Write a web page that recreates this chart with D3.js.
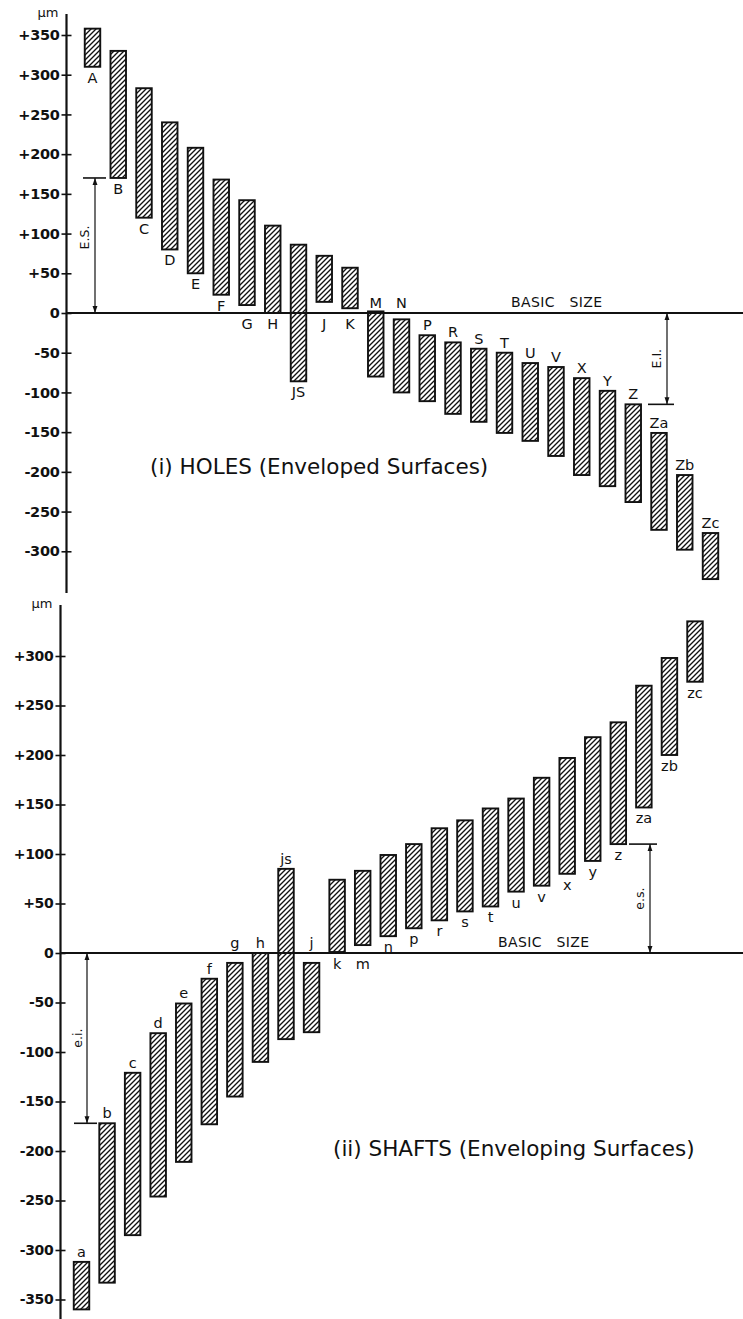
<!DOCTYPE html>
<html>
<head>
<meta charset="utf-8">
<script src="https://cdn.jsdelivr.net/npm/d3@7"></script>
<style>
  html, body { margin: 0; padding: 0; background: #fff; }
  svg { display: block; }
  text { font-family: "DejaVu Sans", "Liberation Sans", sans-serif; fill: #111; }
</style>
</head>
<body>
<svg id="chart" width="743" height="1319"></svg>
<script>
// Fundamental deviation zones, in micrometres (lower and upper limit of each zone)

// (i) Holes
const holeCodes = ["A","B","C","D","E","F","G","H","JS","J","K","M","N","P","R","S","T","U","V","X","Y","Z","Za","Zb","Zc"];
const holeLower = [310, 170, 120, 80, 50, 23, 10, 0, -86, 14, 6, -80, -100, -111, -127, -137, -151, -161, -180, -204, -218, -238, -273, -298, -335];
const holeUpper = [358, 330, 283, 240, 208, 168, 142, 110, 86, 72, 57, 2, -8, -28, -37, -45, -50, -63, -68, -82, -98, -115, -151, -204, -277];
const holeTicks = [350, 300, 250, 200, 150, 100, 50, 0, -50, -100, -150, -200, -250, -300];

// (ii) Shafts
const shaftCodes = ["a","b","c","d","e","f","g","h","js","j","k","m","n","p","r","s","t","u","v","x","y","z","za","zb","zc"];
const shaftLower = [-360, -333, -285, -246, -211, -173, -145, -110, -87, -80, 1, 8, 17, 25, 33, 42, 47, 62, 68, 80, 93, 110, 147, 200, 274];
const shaftUpper = [-312, -172, -121, -81, -51, -26, -10, 0, 85, -10, 74, 83, 99, 110, 126, 134, 146, 156, 177, 197, 218, 233, 270, 298, 335];
const shaftTicks = [300, 250, 200, 150, 100, 50, 0, -50, -100, -150, -200, -250, -300, -350];

const svg = d3.select("#chart");
const W = 743;

// diagonal hatching used to fill every zone
const defs = svg.append("defs");
const hs = 5;
defs.append("pattern")
  .attr("id", "hatch")
  .attr("patternUnits", "userSpaceOnUse")
  .attr("width", hs).attr("height", hs)
  .append("path")
  .attr("d", `M-1,1 l2,-2 M0,${hs} l${hs},-${hs} M${hs - 1},${hs + 1} l2,-2`)
  .attr("stroke", "#111").attr("stroke-width", 1.35);

defs.append("marker")
  .attr("id", "arrow")
  .attr("viewBox", "0 0 10 10")
  .attr("refX", 10).attr("refY", 5)
  .attr("markerWidth", 7).attr("markerHeight", 7)
  .attr("markerUnits", "userSpaceOnUse")
  .attr("orient", "auto-start-reverse")
  .append("path").attr("d", "M0,1.5 L10,5 L0,8.5 Z").attr("fill", "#111");

const fmt = v => v > 0 ? "+" + v : (v < 0 ? "-" + Math.abs(v) : "0");

function dimension(g, y, d) {
  g.append("line")
    .attr("x1", d.x).attr("x2", d.x)
    .attr("y1", y(0)).attr("y2", y(d.value))
    .attr("stroke", "#111").attr("stroke-width", 1.2)
    .attr("marker-start", "url(#arrow)")
    .attr("marker-end", "url(#arrow)");
  g.append("line")
    .attr("x1", d.x0).attr("x2", d.x1)
    .attr("y1", y(d.value)).attr("y2", y(d.value))
    .attr("stroke", "#111").attr("stroke-width", 1.6);
  g.append("text")
    .attr("transform", `translate(${d.lx},${(y(0) + y(d.value)) / 2 + d.dy}) rotate(-90)`)
    .attr("text-anchor", "middle")
    .attr("font-size", 12.5)
    .text(d.label);
}

function drawPanel(cfg) {
  const g = svg.append("g");
  const { x, y, axisX } = cfg;

  // vertical scale with ticks crossing the axis line
  const axis = d3.axisLeft(y)
    .tickValues(cfg.ticks)
    .tickFormat(fmt)
    .tickSize(5)
    .tickPadding(2);
  const ag = g.append("g")
    .attr("transform", `translate(${axisX},0)`)
    .call(axis);
  ag.select(".domain").remove();
  ag.selectAll(".tick line").attr("x1", 5).attr("stroke", "#111").attr("stroke-width", 1.6);
  ag.selectAll(".tick text")
    .attr("font-size", cfg.tickFont)
    .attr("font-family", "DejaVu Sans")
    .attr("fill", "#111")
    .attr("font-weight", "bold")
    .attr("letter-spacing", "-0.3");

  g.append("line")
    .attr("x1", axisX).attr("x2", axisX)
    .attr("y1", cfg.axisTop).attr("y2", cfg.axisBottom)
    .attr("stroke", "#111").attr("stroke-width", 2.2);

  g.append("text")
    .attr("x", axisX - 8).attr("y", cfg.axisTop + 3)
    .attr("text-anchor", "end")
    .attr("font-size", 13)
    .text("µm");

  // basic size (zero line)
  g.append("line")
    .attr("x1", axisX).attr("x2", W)
    .attr("y1", y(0)).attr("y2", y(0))
    .attr("stroke", "#111").attr("stroke-width", 2.2);

  g.append("text")
    .attr("x", cfg.basicX).attr("y", y(0) - 6)
    .attr("font-size", 14)
    .attr("letter-spacing", "0.4")
    .attr("xml:space", "preserve")
    .style("white-space", "pre")
    .text("BASIC   SIZE");

  const rows = cfg.codes.map((c, i) => ({ code: c, lo: cfg.lower[i], hi: cfg.upper[i] }));
  const bw = 15.5;

  g.selectAll("rect.zone")
    .data(rows)
    .join("rect")
    .attr("class", "zone")
    .attr("x", d => x(d.code) - bw / 2)
    .attr("width", bw)
    .attr("y", d => y(d.hi))
    .attr("height", d => y(d.lo) - y(d.hi))
    .attr("fill", "url(#hatch)")
    .attr("stroke", "#111")
    .attr("stroke-width", 1.9);

  // letter codes sit on the side of each zone that faces the zero line
  const near = v => Math.abs(v) < 15 ? 0 : v;
  g.selectAll("text.code")
    .data(rows)
    .join("text")
    .attr("class", "code")
    .attr("x", d => x(d.code))
    .attr("y", d => cfg.labelAbove(d) ? y(near(d.hi)) - 5 : y(near(d.lo)) + 16)
    .attr("text-anchor", "middle")
    .attr("font-size", 14.5)
    .text(d => d.code);

  cfg.dims.forEach(d => dimension(g, y, d));

  g.append("text")
    .attr("x", cfg.title.x).attr("y", cfg.title.y)
    .attr("font-size", 21.5)
    .attr("fill", "#222")
    .attr("xml:space", "preserve")
    .style("white-space", "pre")
    .text(cfg.title.text);
}

// (i) Holes
const holeIdx = c => holeCodes.indexOf(c);
drawPanel({
  codes: holeCodes, lower: holeLower, upper: holeUpper, ticks: holeTicks,
  x: d3.scalePoint().domain(holeCodes).range([92.5, 710.5]),
  y: d3.scaleLinear().domain([-350, 350]).range([591, 35]),
  axisX: 66.5, axisTop: 14, axisBottom: 593, tickFont: 14.5,
  basicX: 511,
  labelAbove: d => d.hi <= 5,
  dims: [
    { x: 95, x0: 83, x1: 106, value: holeLower[holeIdx("B")], label: "E.S.", lx: 89, dy: -8 },
    { x: 667, x0: 648, x1: 674, value: holeUpper[holeIdx("Z")], label: "E.I.", lx: 661, dy: 0 }
  ],
  title: { x: 150, y: 474, text: "(i) HOLES (Enveloped Surfaces)" }
});

// (ii) Shafts
const shaftIdx = c => shaftCodes.indexOf(c);
drawPanel({
  codes: shaftCodes, lower: shaftLower, upper: shaftUpper, ticks: shaftTicks,
  x: d3.scalePoint().domain(shaftCodes).range([81.5, 695]),
  y: d3.scaleLinear().domain([-350, 300]).range([1299.5, 656]),
  axisX: 60.5, axisTop: 605, axisBottom: 1319, tickFont: 14,
  basicX: 498,
  labelAbove: d => d.lo < -5,
  dims: [
    { x: 87, x0: 74, x1: 97, value: shaftUpper[shaftIdx("b")], label: "e.i.", lx: 82, dy: 0 },
    { x: 650, x0: 629, x1: 657, value: shaftLower[shaftIdx("z")], label: "e.s.", lx: 644, dy: 0 }
  ],
  title: { x: 333, y: 1156, text: "(ii) SHAFTS (Enveloping Surfaces)" }
});
</script>
</body>
</html>
